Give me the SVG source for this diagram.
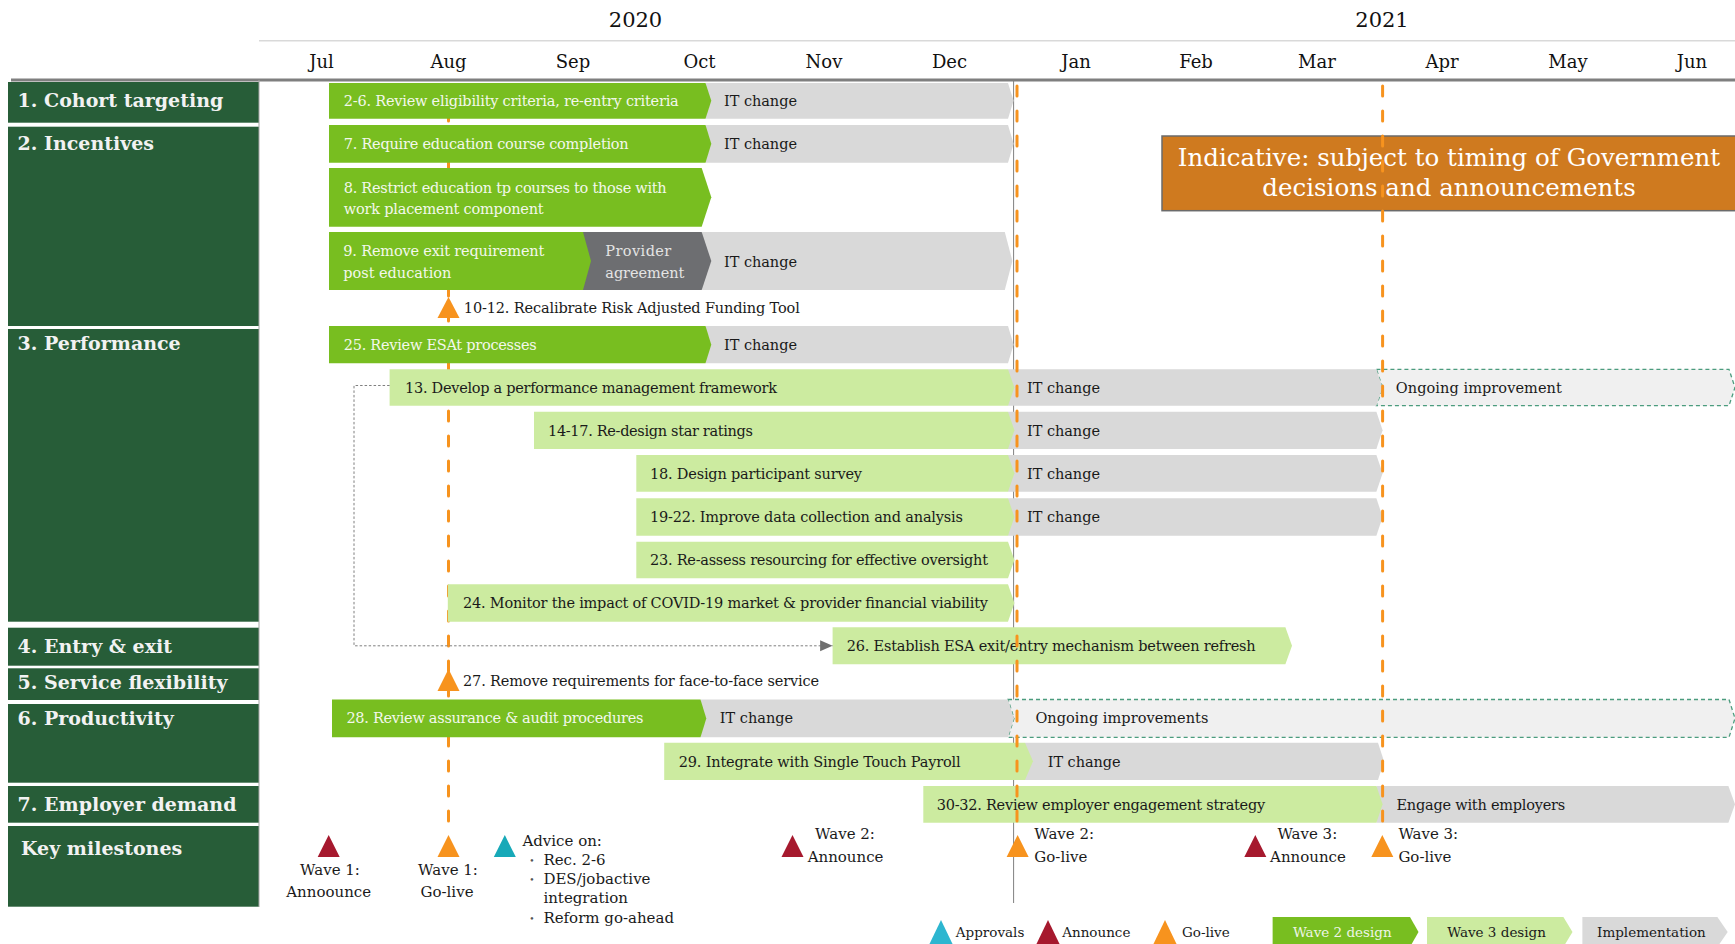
<svg xmlns="http://www.w3.org/2000/svg" width="1735" height="944" viewBox="0 0 1735 944">
<style>
  text { font-family: "DejaVu Serif", "Liberation Serif", serif; }
  .cat { fill: #275D38; }
  .catt { font-weight: bold; font-size: 19px; fill: #F2F2F2; }
  .mon { font-size: 18px; fill: #111; text-anchor: middle; }
  .yr { font-size: 21px; fill: #111; text-anchor: middle; }
  .w2 { fill: #78BE20; }
  .w3 { fill: #CCEBA0; }
  .imp { fill: #D9D9D9; }
  .prov { fill: #6D6E71; }
  .ong { fill: #F0F0F0; stroke: #4B9C7E; stroke-width: 1.3; stroke-dasharray: 4 3; }
  .tl { font-size: 14.5px; fill: #F3F8EC; }
  .td { font-size: 14.5px; fill: #1A1A1A; }
  .tp { font-size: 14.5px; fill: #E4E4E4; }
  .ms { font-size: 15px; fill: #1A1A1A; }
  .bul { font-size: 9px; fill: #555; text-anchor: middle; }
  .lgd { font-size: 13.5px; fill: #1A1A1A; }
  .odash { fill: none; stroke: #F7931E; stroke-width: 3; stroke-dasharray: 10 15; stroke-linecap: round; }
  .ann { fill: #A6192E; }
  .go { fill: #F7931E; }
  .apr { fill: #17A9B8; }
  .apr2 { fill: #2DB6D0; }
</style>
<defs>
  <marker id="arrowhead" markerUnits="userSpaceOnUse" markerWidth="13" markerHeight="12" refX="12.5" refY="6" orient="auto">
    <path d="M0,0.5 L12.5,6 L0,11.5 Z" fill="#6F6F6F"/>
  </marker>
</defs>

<!-- timeline header -->
<g id="header">
  <line x1="259" y1="40.7" x2="1735" y2="40.7" stroke="#D9D9D9" stroke-width="1.5"/>
  <text class="yr" x="635.5" y="27">2020</text>
  <text class="yr" x="1382" y="27">2021</text>
  <text class="mon" x="321.5" y="68">Jul</text>
  <text class="mon" x="448.5" y="68">Aug</text>
  <text class="mon" x="573" y="68">Sep</text>
  <text class="mon" x="699.5" y="68">Oct</text>
  <text class="mon" x="824" y="68">Nov</text>
  <text class="mon" x="949.5" y="68">Dec</text>
  <text class="mon" x="1076" y="68">Jan</text>
  <text class="mon" x="1196" y="68">Feb</text>
  <text class="mon" x="1317" y="68">Mar</text>
  <text class="mon" x="1442" y="68">Apr</text>
  <text class="mon" x="1568" y="68">May</text>
  <text class="mon" x="1692" y="68">Jun</text>
  <line x1="11" y1="80" x2="1735" y2="80" stroke="#7F7F7F" stroke-width="3"/>
</g>

<!-- category column -->
<g id="cat-cohort"><rect class="cat" x="8" y="82" width="251" height="40.7"/><text class="catt" x="17.6" y="107">1. Cohort targeting</text></g>
<g id="cat-incentives"><rect class="cat" x="8" y="126.7" width="251" height="199.3"/><text class="catt" x="17.6" y="150">2. Incentives</text></g>
<g id="cat-performance"><rect class="cat" x="8" y="329" width="251" height="292.7"/><text class="catt" x="17.6" y="350">3. Performance</text></g>
<g id="cat-entry"><rect class="cat" x="8" y="627.7" width="251" height="38"/><text class="catt" x="17.6" y="652.7">4. Entry &amp; exit</text></g>
<g id="cat-flex"><rect class="cat" x="8" y="668.3" width="251" height="31.7"/><text class="catt" x="17.6" y="688.7">5. Service flexibility</text></g>
<g id="cat-productivity"><rect class="cat" x="8" y="704" width="251" height="78.7"/><text class="catt" x="17.6" y="725">6. Productivity</text></g>
<g id="cat-employer"><rect class="cat" x="8" y="786" width="251" height="36.7"/><text class="catt" x="17.6" y="810.7">7. Employer demand</text></g>
<g id="cat-milestones"><rect class="cat" x="8" y="826" width="251" height="80.7"/><text class="catt" x="21" y="855">Key milestones</text></g>
<line x1="259" y1="80" x2="259" y2="907" stroke="#A6A6A6" stroke-width="1"/>

<!-- guide lines under the bars -->
<g id="guides-under">
  <line x1="1013.6" y1="80" x2="1013.6" y2="903" stroke="#808080" stroke-width="1"/>
  <line class="odash" x1="448.5" y1="86" x2="448.5" y2="832"/>
</g>

<!-- 1. Cohort targeting -->
<g id="bar-2-6">
  <polygon class="imp" points="705.5,83 1008,83 1013.6,100.85 1008,118.7 705.5,118.7"/>
  <polygon class="w2" points="329,83 705.5,83 711.3,100.85 705.5,118.7 329,118.7"/>
  <text class="tl" x="343.7" y="106" textLength="335">2-6. Review eligibility criteria, re-entry criteria</text>
  <text class="td" x="724" y="106" textLength="73">IT change</text>
</g>

<!-- 2. Incentives -->
<g id="bar-7">
  <polygon class="imp" points="705.5,125 1008,125 1013.6,143.85 1008,162.7 705.5,162.7"/>
  <polygon class="w2" points="329,125 705.5,125 711.3,143.85 705.5,162.7 329,162.7"/>
  <text class="tl" x="343.7" y="149" textLength="285">7. Require education course completion</text>
  <text class="td" x="724" y="149" textLength="73">IT change</text>
</g>
<g id="bar-8">
  <polygon class="w2" points="329,168 701.7,168 711.3,197.35 701.7,226.7 329,226.7"/>
  <text class="tl" x="343.7" y="192.5" textLength="323">8. Restrict education tp courses to those with</text>
  <text class="tl" x="343.7" y="213.5" textLength="200">work placement component</text>
</g>
<g id="bar-9">
  <polygon class="imp" points="701.7,232 1004.8,232 1012.4,261 1004.8,290 701.7,290"/>
  <polygon class="prov" points="583,232 701.7,232 711.3,261 701.7,290 583,290"/>
  <polygon class="w2" points="329,232 583,232 591,261 583,290 329,290"/>
  <text class="tl" x="343.3" y="256" textLength="201">9. Remove exit requirement</text>
  <text class="tl" x="343.3" y="278" textLength="108">post education</text>
  <text class="tp" x="605.3" y="256" textLength="66">Provider</text>
  <text class="tp" x="605.3" y="278" textLength="79">agreement</text>
  <text class="td" x="724" y="266.7" textLength="73">IT change</text>
</g>
<g id="item-10-12">
  <polygon class="go" points="448.5,297 459.5,318 437.5,318"/>
  <text class="td" x="463.8" y="312.7" textLength="336">10-12. Recalibrate Risk Adjusted Funding Tool</text>
</g>

<!-- 3. Performance -->
<g id="bar-25">
  <polygon class="imp" points="705.5,326 1008,326 1013.6,344.65 1008,363.3 705.5,363.3"/>
  <polygon class="w2" points="329,326 705.5,326 711.3,344.65 705.5,363.3 329,363.3"/>
  <text class="tl" x="343.7" y="350" textLength="193">25. Review ESAt processes</text>
  <text class="td" x="724" y="350" textLength="73">IT change</text>
</g>
<g id="bar-13">
  <path class="ong" d="M1376.4,369.3 H1729 L1735,387.5 L1729,405.7 H1376.4 L1382.6,387.5 Z"/>
  <polygon class="imp" points="1008,369.3 1376.4,369.3 1382.6,387.5 1376.4,405.7 1008,405.7"/>
  <polygon class="w3" points="389.6,369.3 1008,369.3 1014.4,387.5 1008,405.7 389.6,405.7"/>
  <text class="td" x="405" y="392.7" textLength="372">13. Develop a performance management framework</text>
  <text class="td" x="1027" y="392.7" textLength="73">IT change</text>
  <text class="td" x="1395.8" y="392.7" textLength="166">Ongoing improvement</text>
</g>
<g id="bar-14-17">
  <polygon class="imp" points="1008,411.7 1376.4,411.7 1382.6,430.35 1376.4,449 1008,449"/>
  <polygon class="w3" points="534,411.7 1008,411.7 1014.4,430.35 1008,449 534,449"/>
  <text class="td" x="548" y="435.5" textLength="205">14-17. Re-design star ratings</text>
  <text class="td" x="1027" y="435.5" textLength="73">IT change</text>
</g>
<g id="bar-18">
  <polygon class="imp" points="1008,455 1376.4,455 1382.6,473.35 1376.4,491.7 1008,491.7"/>
  <polygon class="w3" points="636.3,455 1008,455 1014.4,473.35 1008,491.7 636.3,491.7"/>
  <text class="td" x="650" y="478.5" textLength="212">18. Design participant survey</text>
  <text class="td" x="1027" y="478.5" textLength="73">IT change</text>
</g>
<g id="bar-19-22">
  <polygon class="imp" points="1008,498.3 1376.4,498.3 1382.6,517 1376.4,535.7 1008,535.7"/>
  <polygon class="w3" points="636.3,498.3 1008,498.3 1014.4,517 1008,535.7 636.3,535.7"/>
  <text class="td" x="650" y="521.8" textLength="313">19-22. Improve data collection and analysis</text>
  <text class="td" x="1027" y="521.8" textLength="73">IT change</text>
</g>
<g id="bar-23">
  <polygon class="w3" points="636.3,541.7 1008,541.7 1014.4,560 1008,578.3 636.3,578.3"/>
  <text class="td" x="650" y="565" textLength="338">23. Re-assess resourcing for effective oversight</text>
</g>
<g id="bar-24">
  <polygon class="w3" points="447.8,584.3 1008,584.3 1014.4,603 1008,621.7 447.8,621.7"/>
  <text class="td" x="463" y="607.8" textLength="525">24. Monitor the impact of COVID-19 market &amp; provider financial viability</text>
</g>

<!-- 4. Entry & exit -->
<g id="bar-26">
  <polygon class="w3" points="832.6,627.3 1285.4,627.3 1292,645.8 1285.4,664.3 832.6,664.3"/>
  <text class="td" x="846.7" y="650.8" textLength="409">26. Establish ESA exit/entry mechanism between refresh</text>
</g>

<!-- 5. Service flexibility -->
<g id="item-27">
  <polygon class="go" points="448.5,669 459.5,691 437.5,691"/>
  <text class="td" x="463" y="686" textLength="356">27. Remove requirements for  face-to-face service</text>
</g>

<!-- 6. Productivity -->
<g id="bar-28">
  <path class="ong" d="M1008,699.5 H1729 L1735,718.4 L1729,737.3 H1008 L1014,718.4 Z"/>
  <polygon class="imp" points="700.5,699.5 1008,699.5 1014,718.4 1008,737.3 700.5,737.3"/>
  <polygon class="w2" points="332,699.5 700.5,699.5 706.3,718.4 700.5,737.3 332,737.3"/>
  <text class="tl" x="346.4" y="723.3" textLength="297">28. Review assurance &amp; audit procedures</text>
  <text class="td" x="719.7" y="723.3" textLength="73.5">IT change</text>
  <text class="td" x="1035.4" y="723.3" textLength="173">Ongoing improvements</text>
</g>
<g id="bar-29">
  <polygon class="imp" points="1025,742.7 1378,742.7 1384,761.35 1378,780 1025,780"/>
  <polygon class="w3" points="664.2,742.7 1025,742.7 1033,761.35 1025,780 664.2,780"/>
  <text class="td" x="678.7" y="766.7" textLength="282">29. Integrate with Single Touch Payroll</text>
  <text class="td" x="1047.7" y="766.7" textLength="73">IT change</text>
</g>

<!-- 7. Employer demand -->
<g id="bar-30-32">
  <polygon class="imp" points="1376.4,786 1728.4,786 1735,804.35 1728.4,822.7 1376.4,822.7"/>
  <polygon class="w3" points="923.3,786 1376.4,786 1382.6,804.35 1376.4,822.7 923.3,822.7"/>
  <text class="td" x="936.7" y="810" textLength="328.5">30-32. Review employer engagement strategy</text>
  <text class="td" x="1396.5" y="810" textLength="168.7">Engage with employers</text>
</g>

<!-- timing note -->
<g id="note-indicative">
  <rect x="1162" y="136" width="580" height="74.7" fill="#CF7A1F" stroke="#6B6B6B" stroke-width="1.5"/>
  <text x="1449" y="166" font-size="24.5" fill="#FFFFFF" text-anchor="middle">Indicative: subject to timing of Government</text>
  <text x="1449" y="196" font-size="24.5" fill="#FFFFFF" text-anchor="middle">decisions and announcements</text>
</g>

<!-- go-live lines drawn over the bars -->
<g id="guides-over">
  <line class="odash" x1="1017" y1="86" x2="1017" y2="832"/>
  <line class="odash" x1="1382.6" y1="86" x2="1382.6" y2="832"/>
</g>

<!-- connectors -->
<g id="connectors">
  <path d="M389.6,385.5 H354 V645.8 H832.6" fill="none" stroke="#7F7F7F" stroke-width="1" stroke-dasharray="2.5 2" marker-end="url(#arrowhead)"/>
</g>

<!-- key milestones -->
<g id="ms-wave1-announce">
  <polygon class="ann" points="328.7,835 339.7,857 317.7,857"/>
  <text class="ms" x="330" y="875" text-anchor="middle">Wave 1:</text>
  <text class="ms" x="328.7" y="896.7" text-anchor="middle">Annoounce</text>
</g>
<g id="ms-wave1-golive">
  <polygon class="go" points="448.5,835 459.5,857 437.5,857"/>
  <text class="ms" x="448" y="875" text-anchor="middle">Wave 1:</text>
  <text class="ms" x="447" y="896.7" text-anchor="middle">Go-live</text>
</g>
<g id="ms-advice">
  <polygon class="apr" points="504.8,835 515.8,857 493.8,857"/>
  <text class="ms" x="522.4" y="846">Advice on:</text>
  <text class="bul" x="532" y="864">•</text>
  <text class="ms" x="543.4" y="865">Rec. 2-6</text>
  <text class="bul" x="532" y="883.3">•</text>
  <text class="ms" x="543.4" y="884.3">DES/jobactive</text>
  <text class="ms" x="543.4" y="903.3">integration</text>
  <text class="bul" x="532" y="921.7">•</text>
  <text class="ms" x="543.4" y="922.7">Reform go-ahead</text>
</g>
<g id="ms-wave2-announce">
  <polygon class="ann" points="792.5,835 803.5,857 781.5,857"/>
  <text class="ms" x="845" y="839.3" text-anchor="middle">Wave 2:</text>
  <text class="ms" x="845.6" y="861.7" text-anchor="middle">Announce</text>
</g>
<g id="ms-wave2-golive">
  <polygon class="go" points="1017.6,835 1028.6,857 1006.6,857"/>
  <text class="ms" x="1034.3" y="839.3">Wave 2:</text>
  <text class="ms" x="1034.3" y="861.7">Go-live</text>
</g>
<g id="ms-wave3-announce">
  <polygon class="ann" points="1255.3,835 1266.3,857 1244.3,857"/>
  <text class="ms" x="1307.3" y="839.3" text-anchor="middle">Wave 3:</text>
  <text class="ms" x="1308" y="861.7" text-anchor="middle">Announce</text>
</g>
<g id="ms-wave3-golive">
  <polygon class="go" points="1382.3,835 1393.3,857 1371.3,857"/>
  <text class="ms" x="1398.4" y="839.3">Wave 3:</text>
  <text class="ms" x="1398.4" y="861.7">Go-live</text>
</g>

<!-- legend -->
<g id="legend">
  <polygon class="apr2" points="941,920 953.5,946 928.5,946"/>
  <text class="lgd" x="955.8" y="936.7">Approvals</text>
  <polygon class="ann" points="1048,920 1060.5,946 1035.5,946"/>
  <text class="lgd" x="1062.2" y="936.7">Announce</text>
  <polygon class="go" points="1165,920 1177.5,946 1152.5,946"/>
  <text class="lgd" x="1182" y="936.7">Go-live</text>
  <polygon class="w2" points="1272.6,917 1410,917 1418.5,932 1410,947 1272.6,947"/>
  <text class="lgd" x="1342.3" y="936.7" text-anchor="middle" style="fill:#EEF5E6">Wave 2 design</text>
  <polygon class="w3" points="1427,917 1563.4,917 1572.5,932 1563.4,947 1427,947"/>
  <text class="lgd" x="1496.6" y="936.7" text-anchor="middle">Wave 3 design</text>
  <polygon class="imp" points="1582.4,917 1717.4,917 1727.7,932 1717.4,947 1582.4,947"/>
  <text class="lgd" x="1651.4" y="936.7" text-anchor="middle">Implementation</text>
</g>
</svg>
